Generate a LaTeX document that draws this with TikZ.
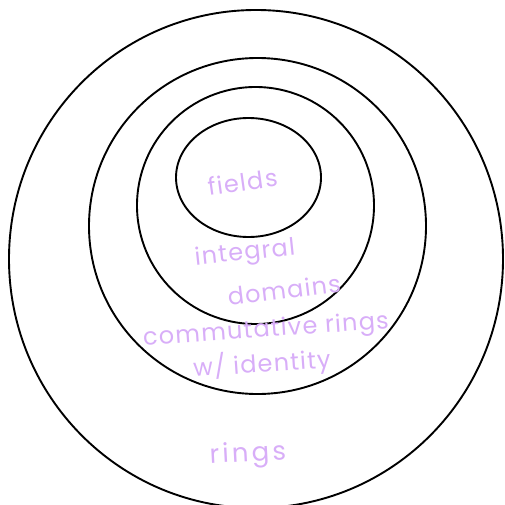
\documentclass[tikz,border=0pt]{standalone}
\usepackage{fontspec}
\newfontfamily\handfont[LetterSpace=5]{Poppins}
\newfontfamily\handwide[LetterSpace=12]{Poppins}
\definecolor{lav}{RGB}{216,174,248}
\tikzset{
  ring/.style={draw=black, line width=1.9pt},
  lbl/.style={text=lav, font=\handfont\fontsize{24}{24}\selectfont, inner sep=0pt, align=center},
  lblwide/.style={lbl, font=\handwide\fontsize{26}{26}\selectfont}
}
\begin{document}
\begin{tikzpicture}[x=1pt,y=-1pt]
\useasboundingbox (0,0) rectangle (504,505);
\draw[ring] (256,259) ellipse [x radius=247, y radius=249];
\draw[ring] (257.5,226) ellipse [x radius=168.5, y radius=168];
\draw[ring] (255.5,205.5) ellipse [x radius=118.5, y radius=118.5];
\draw[ring] (248.5,177.5) ellipse [x radius=72.5, y radius=59.5];
\node[lbl, rotate=8] (fields) at (243,182) {fields};
\node[lbl, rotate=6] (integral) at (245,254) {integral};
\node[lbl, rotate=7] (domains) at (284,290) {domains};
\node[lbl, rotate=4] (comm) at (266,331) {commutative rings};
\node[lbl, rotate=4] (ident) at (262,364) {w/ identity};
\node[lblwide, rotate=3] (rings) at (248,455) {rings};
\end{tikzpicture}
\end{document}
